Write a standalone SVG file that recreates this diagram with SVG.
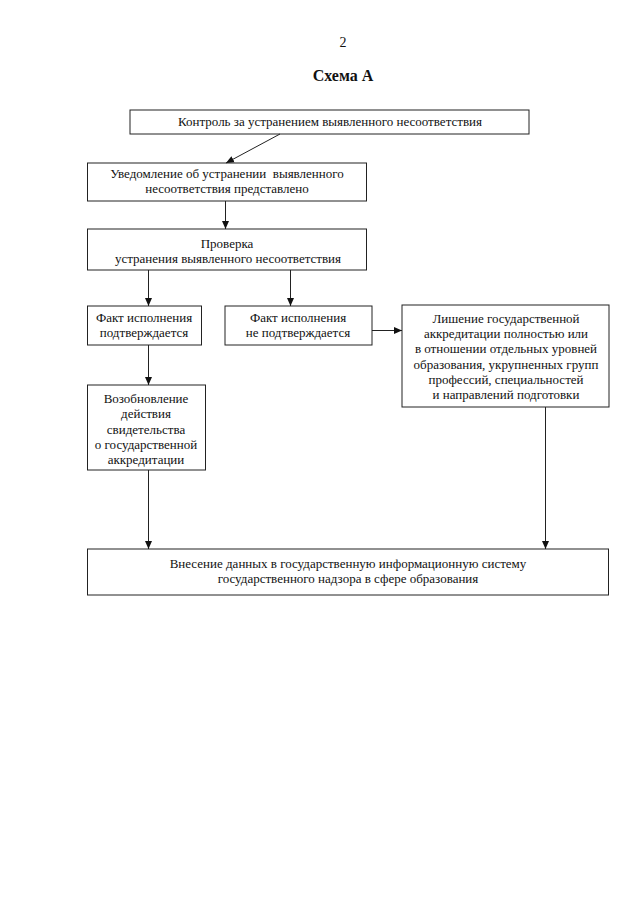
<svg xmlns="http://www.w3.org/2000/svg" width="640" height="905" viewBox="0 0 640 905">
<style>
.bg{fill:#fff}
.box{fill:#fff;stroke:#222;stroke-width:1}
.t{font-family:"Liberation Serif","Times New Roman",serif;font-size:13px;fill:#111;text-anchor:middle}
.h{font-family:"Liberation Serif","Times New Roman",serif;fill:#111;text-anchor:middle}
.c{stroke:#222;stroke-width:1;fill:none;marker-end:url(#ah)}
</style>
<defs>
<marker id="ah" viewBox="0 0 8 8" refX="8" refY="4" markerWidth="8" markerHeight="8" markerUnits="userSpaceOnUse" orient="auto">
<path d="M0,0.5 L8,4 L0,7.5 Z" fill="#111"/>
</marker>
</defs>
<rect class="bg" x="0" y="0" width="640" height="905"/>
<text class="h" x="343" y="47" font-size="14">2</text>
<text class="h" x="343" y="81" font-size="16" font-weight="bold">Схема А</text>

<g id="n1">
<rect class="box" x="130" y="110" width="399" height="24"/>
<text class="t" x="330" y="126">Контроль за устранением выявленного несоответствия</text>
</g>
<g id="n2">
<rect class="box" x="87.5" y="163" width="279" height="38"/>
<text class="t" x="227" y="178" xml:space="preserve">Уведомление об устранении  выявленного</text>
<text class="t" x="227" y="193">несоответствия представлено</text>
</g>
<g id="n3">
<rect class="box" x="87.5" y="229" width="279" height="41"/>
<text class="t" x="227" y="248">Проверка</text>
<text class="t" x="228" y="263">устранения выявленного несоответствия</text>
</g>
<g id="n4">
<rect class="box" x="87.5" y="306" width="114" height="39"/>
<text class="t" x="144" y="322">Факт исполнения</text>
<text class="t" x="144" y="337">подтверждается</text>
</g>
<g id="n5">
<rect class="box" x="225" y="306" width="147" height="39"/>
<text class="t" x="298" y="322">Факт исполнения</text>
<text class="t" x="298" y="337">не подтверждается</text>
</g>
<g id="n6">
<rect class="box" x="402" y="305" width="207" height="102"/>
<text class="t" x="506" y="323">Лишение государственной</text>
<text class="t" x="506" y="338">аккредитации полностью или</text>
<text class="t" x="506" y="353">в отношении отдельных уровней</text>
<text class="t" x="506" y="369">образования, укрупненных групп</text>
<text class="t" x="506" y="384">профессий, специальностей</text>
<text class="t" x="506" y="399">и направлений подготовки</text>
</g>
<g id="n7">
<rect class="box" x="87.5" y="385" width="118" height="85"/>
<text class="t" x="146" y="403">Возобновление</text>
<text class="t" x="146" y="418">действия</text>
<text class="t" x="146" y="434">свидетельства</text>
<text class="t" x="146" y="449">о государственной</text>
<text class="t" x="146" y="464">аккредитации</text>
</g>
<g id="n8">
<rect class="box" x="87.5" y="549" width="521" height="46"/>
<text class="t" x="348" y="568">Внесение данных в государственную информационную систему</text>
<text class="t" x="348" y="583">государственного надзора в сфере образования</text>
</g>

<g id="connectors">
<line class="c" x1="280" y1="134" x2="226" y2="163"/>
<line class="c" x1="225.5" y1="201" x2="225.5" y2="229"/>
<line class="c" x1="148.5" y1="270" x2="148.5" y2="306"/>
<line class="c" x1="290.5" y1="270" x2="290.5" y2="306"/>
<line class="c" x1="372" y1="330.5" x2="402" y2="330.5"/>
<line class="c" x1="148.5" y1="345" x2="148.5" y2="385"/>
<line class="c" x1="148.5" y1="470" x2="148.5" y2="549"/>
<line class="c" x1="545.5" y1="407" x2="545.5" y2="549"/>
</g>
</svg>
